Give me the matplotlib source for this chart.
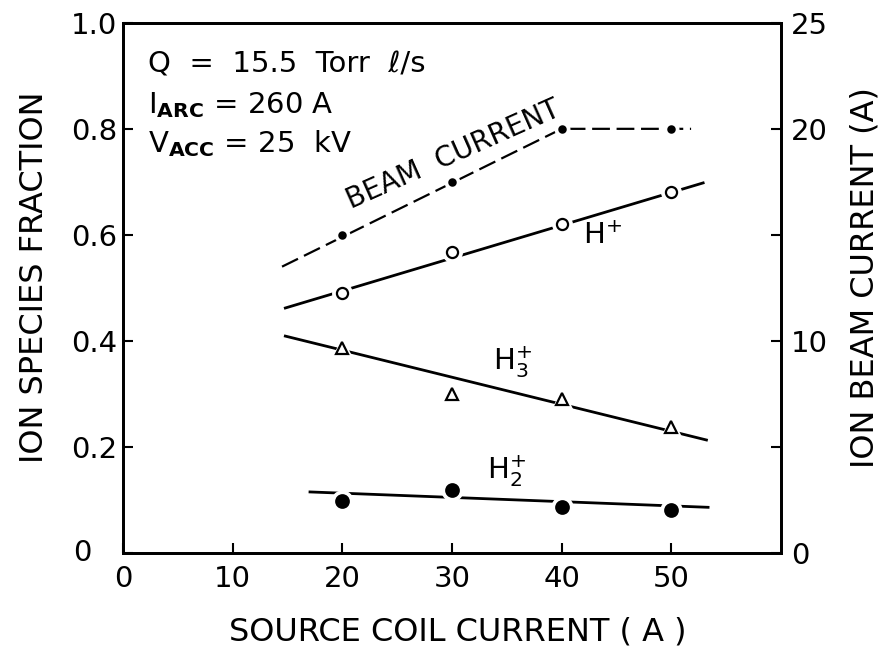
import matplotlib
matplotlib.use("Agg")
import matplotlib.pyplot as plt

# ── Data ──────────────────────────────────────────────────────────────────────
coil_current = [20, 30, 40, 50]                 # source coil current (A)
beam_current = [15.0, 17.5, 20.0, 20.0]         # ion beam current (A), right axis
frac_h1 = [0.49, 0.567, 0.62, 0.68]             # H+
frac_h3 = [0.387, 0.30, 0.29, 0.237]            # H3+
frac_h2 = [0.097, 0.119, 0.087, 0.081]          # H2+

# hand-drawn trend lines
beam_fit_x = [14.5, 40.0, 51.8]
beam_fit_y = [13.5, 20.0, 20.0]
h1_fit_x = [14.8, 52.9]
h1_fit_y = [0.462, 0.698]
h3_fit_x = [14.8, 53.2]
h3_fit_y = [0.409, 0.213]
h2_fit_x = [17.05, 53.35]
h2_fit_y = [0.115, 0.086]

x_ticks = [0, 10, 20, 30, 40, 50]
left_ticks = [0, 0.2, 0.4, 0.6, 0.8, 1.0]
left_labels = ["", "0.2", "0.4", "0.6", "0.8", "1.0"]
right_ticks = [0, 5, 10, 15, 20, 25]
right_labels = ["0", "", "10", "", "20", "25"]

plt.rcParams["font.family"] = ["DejaVu Sans"]

fig = plt.figure(figsize=(8.85, 6.52), dpi=100)
ax = fig.add_axes([0.139, 0.152, 0.7435, 0.813])
ax2 = ax.twinx()

ax.set_xlim(0, 60)
ax.set_ylim(0, 1.0)
ax2.set_ylim(0, 25)

# ── Trend lines ───────────────────────────────────────────────────────────────
ax.plot(h1_fit_x, h1_fit_y, color="black", lw=2.0, zorder=2)
ax.plot(h3_fit_x, h3_fit_y, color="black", lw=2.0, zorder=2)
ax.plot(h2_fit_x, h2_fit_y, color="black", lw=2.0, zorder=2)
ax2.plot(beam_fit_x, beam_fit_y, color="black", lw=1.6, dashes=(8, 3), zorder=2)


def points(axis, x, y, marker, ms, filled):
    # white halo so the line breaks around each symbol
    axis.plot(x, y, ls="none", marker=marker, ms=ms + 6, mfc="white",
              mec="white", zorder=3)
    axis.plot(x, y, ls="none", marker=marker, ms=ms,
              mfc="black" if filled else "white", mec="black", mew=1.6,
              zorder=4)


points(ax, coil_current, frac_h1, "o", 8, False)
points(ax, coil_current, frac_h3, "^", 8, False)
points(ax, coil_current, frac_h2, "o", 9, True)
points(ax2, coil_current, beam_current, "o", 4.5, True)

# ── Axes styling ──────────────────────────────────────────────────────────────
for a in (ax, ax2):
    for s in a.spines.values():
        s.set_linewidth(2.0)

ax.set_xticks(x_ticks)
ax.set_xticklabels([str(t) for t in x_ticks])
ax.set_yticks(left_ticks)
ax.set_yticklabels(left_labels)
ax2.set_yticks(right_ticks)
ax2.set_yticklabels(right_labels)

ax.tick_params(axis="x", direction="in", length=7, width=1.5, labelsize=21, pad=9)
ax.tick_params(axis="y", direction="in", length=7, width=1.5, labelsize=21, pad=4)
ax2.tick_params(axis="y", direction="in", length=7, width=1.5, labelsize=21, pad=7)

ax.text(-3.7, 0.0, "0", ha="center", va="center", fontsize=21, clip_on=False)

ax.text(-0.135, 0.52, "ION SPECIES FRACTION", transform=ax.transAxes,
        rotation=90, ha="center", va="center", fontsize=23)
ax.text(1.128, 0.52, "ION BEAM CURRENT (A)", transform=ax.transAxes,
        rotation=90, ha="center", va="center", fontsize=23)
ax.text(0.508, -0.149, "SOURCE COIL CURRENT ( A )", transform=ax.transAxes,
        ha="center", va="center", fontsize=23)

# ── Annotations ───────────────────────────────────────────────────────────────
ax.text(2.3, 0.906, "Q  =  15.5  Torr  \u2113/s", fontsize=21, va="baseline")
ax.text(2.3, 0.83, r"I$_{\mathbf{ARC}}$ = 260 A", fontsize=21, va="baseline")
ax.text(2.3, 0.755, r"V$_{\mathbf{ACC}}$ = 25  kV", fontsize=21, va="baseline")

ax.text(30.1, 0.752, "BEAM  CURRENT", rotation=24, rotation_mode="anchor",
        ha="center", va="center", fontsize=20)
ax.text(43.7, 0.598, r"H$^{+}$", ha="center", va="center", fontsize=21)
ax.text(35.5, 0.36, r"H$_3^{+}$", ha="center", va="center", fontsize=21)
ax.text(35.0, 0.155, r"H$_2^{+}$", ha="center", va="center", fontsize=21)

fig.savefig("out.png", dpi=100)
